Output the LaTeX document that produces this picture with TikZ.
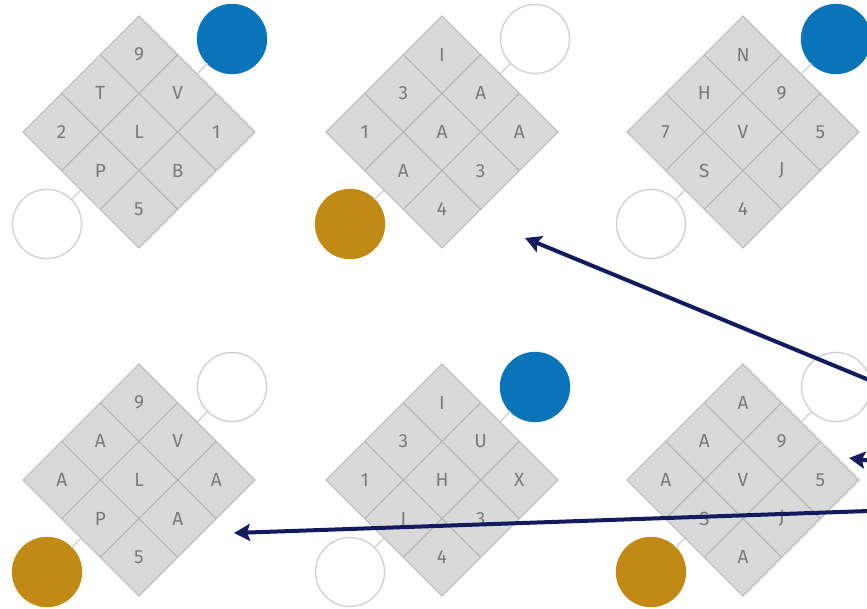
\documentclass[tikz,border=0pt]{standalone}
\usepackage{fontspec}
\setmainfont{Fira Sans}
\usetikzlibrary{shapes.geometric,calc,arrows.meta}
\definecolor{cellfill}{HTML}{D9D9D9}
\definecolor{gridgray}{HTML}{B4B4B4}
\definecolor{ring}{HTML}{CFCFCF}
\definecolor{cblue}{HTML}{0A74B8}
\definecolor{cgold}{HTML}{C08A14}
\definecolor{txtgray}{HTML}{7A7A7A}
\definecolor{navy}{HTML}{141A5E}
\tikzset{
  dia/.style={shape=diamond, aspect=1, minimum width=232pt, minimum height=232pt,
    inner sep=0pt, outer sep=0pt, fill=cellfill, draw=gridgray, line width=1pt},
  gridln/.style={draw=gridgray, line width=1pt},
  lab/.style={text=txtgray, font=\fontsize{19}{21}\selectfont, inner sep=0pt},
  circ/.style={circle, minimum size=69pt, inner sep=0pt, outer sep=0pt, line width=1.3pt},
  conn/.style={draw=ring, line width=1.2pt},
  arr/.style={draw=navy, line width=4pt, -{Stealth[length=16pt,width=17pt,inset=3pt]}}
}
\begin{document}
\begin{tikzpicture}[x=1pt,y=-1pt]
\useasboundingbox[fill=white] (0,0) rectangle (867,609);
\foreach \n/\x/\y/\trf/\trd/\blf/\bld/\sA/\sB/\sC/\sD/\sE/\sF/\sG/\sH/\sI in {
  d1/139/132/cblue/cblue/white/ring/9/T/V/2/L/1/P/B/5,
  d2/442/132/white/ring/cgold/cgold/I/3/A/1/A/A/A/3/4,
  d3/743/132/cblue/cblue/white/ring/N/H/9/7/V/5/S/J/4,
  d4/139/480/white/ring/cgold/cgold/9/A/V/A/L/A/P/A/5,
  d5/442/480/cblue/cblue/white/ring/I/3/U/1/H/X/I/3/4,
  d6/743/480/white/ring/cgold/cgold/A/A/9/A/V/5/S/J/A}
{
  \node[dia] (\n) at (\x,\y) {};
  \foreach \k in {1,2}{
    \draw[gridln] ($(\n.north)!\k/3!(\n.east)$) -- ($(\n.west)!\k/3!(\n.south)$);
    \draw[gridln] ($(\n.north)!\k/3!(\n.west)$) -- ($(\n.east)!\k/3!(\n.south)$);
  }
  \node[lab] (\n-1) at ($(\n)+(0,-77.3)$) {\sA};
  \node[lab] (\n-2) at ($(\n)+(-38.7,-38.7)$) {\sB};
  \node[lab] (\n-3) at ($(\n)+(38.7,-38.7)$) {\sC};
  \node[lab] (\n-4) at ($(\n)+(-77.3,0)$) {\sD};
  \node[lab] (\n-5) at ($(\n)+(0,0)$) {\sE};
  \node[lab] (\n-6) at ($(\n)+(77.3,0)$) {\sF};
  \node[lab] (\n-7) at ($(\n)+(-38.7,38.7)$) {\sG};
  \node[lab] (\n-8) at ($(\n)+(38.7,38.7)$) {\sH};
  \node[lab] (\n-9) at ($(\n)+(0,77.3)$) {\sI};
  \node[circ, fill=\trf, draw=\trd] (\n-tr) at ($(\n)+(93,-93)$) {};
  \node[circ, fill=\blf, draw=\bld] (\n-bl) at ($(\n)+(-92,92)$) {};
  \draw[conn] (\n-tr) -- (\n.north east);
  \draw[conn] (\n-bl) -- (\n.south west);
}
\coordinate (a1s) at (869,380);
\coordinate (a1e) at (525,238);
\coordinate (a2s) at (872,461);
\coordinate (a2e) at (849,458);
\coordinate (a3s) at (869,511);
\coordinate (a3e) at (234,533);
\draw[arr] (a1s) -- (a1e);
\draw[arr] (a2s) -- (a2e);
\draw[arr] (a3s) -- (a3e);
\end{tikzpicture}
\end{document}
